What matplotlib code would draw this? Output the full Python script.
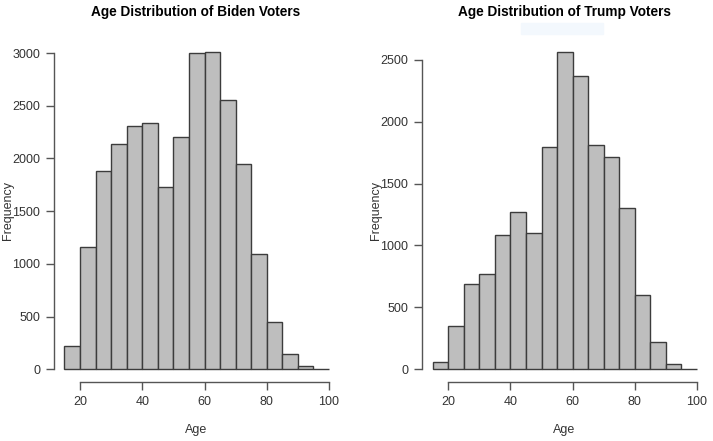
import matplotlib.pyplot as plt
from matplotlib.patches import Rectangle

plt.rcParams['font.family'] = ['Liberation Sans', 'DejaVu Sans']

# 5-year age bins, 15 to 100
bin_edges = [15, 20, 25, 30, 35, 40, 45, 50, 55, 60, 65, 70, 75, 80, 85, 90, 95, 100]
biden_counts = [224, 1163, 1881, 2134, 2311, 2333, 1732, 2207, 2997, 3013,
                2551, 1944, 1094, 452, 145, 28, 0]
trump_counts = [57, 350, 689, 770, 1082, 1268, 1098, 1795, 2565, 2368,
                1808, 1714, 1300, 600, 218, 40, 0]

x_ticks = [20, 40, 60, 80, 100]
biden_yticks = [0, 500, 1000, 1500, 2000, 2500, 3000]
trump_yticks = [0, 500, 1000, 1500, 2000, 2500]

W, H = 713, 441
fig = plt.figure(figsize=(W / 100, H / 100), dpi=100)
ax1 = fig.add_axes([0.0756, 0.1338, 0.4007, 0.7778])
ax2 = fig.add_axes([0.5922, 0.1338, 0.3999, 0.7778])


def r_hist(ax, counts, yticks, title, cx, ylab_x):
    lefts = bin_edges[:-1]
    ax.bar(lefts, counts, width=5, align='edge', color='#bebebe',
           edgecolor='#3c3c3c', linewidth=1.0)
    top = max(counts)
    xr = bin_edges[-1] - bin_edges[0]
    ax.set_xlim(bin_edges[0] - 0.04 * xr, bin_edges[-1] + 0.04 * xr)
    ax.set_ylim(-0.04 * top, 1.04 * top)
    for s in ['top', 'right']:
        ax.spines[s].set_visible(False)
    ax.spines['left'].set_bounds(yticks[0], yticks[-1])
    ax.spines['bottom'].set_bounds(x_ticks[0], x_ticks[-1])
    for s in ['left', 'bottom']:
        ax.spines[s].set_color('#555555')
        ax.spines[s].set_linewidth(1.0)
    ax.set_xticks(x_ticks)
    ax.set_yticks(yticks)
    ax.tick_params(length=6, width=1.0, color='#555555', labelcolor='#333333',
                   labelsize=9, pad=4)
    fig.text(cx / W, 1 - 12 / H, title, fontsize=9.8, fontweight='bold',
             ha='center', va='center')
    fig.text(cx / W, 1 - 430 / H, 'Age', fontsize=9, color='#333333',
             ha='center', va='center')
    fig.text(ylab_x / W, 1 - 210 / H, 'Frequency', fontsize=9, color='#333333',
             ha='center', va='center', rotation=90)


r_hist(ax1, biden_counts, biden_yticks, 'Age Distribution of Biden Voters', 196, 8)
r_hist(ax2, trump_counts, trump_yticks, 'Age Distribution of Trump Voters', 564, 376)

# faint screenshot-tool leftover under the right title
fig.patches.append(Rectangle((521 / W, 1 - 34 / H), 82 / W, 11 / H,
                             transform=fig.transFigure, color='#f3f8fd',
                             zorder=0))

fig.savefig('out.png', dpi=100)
